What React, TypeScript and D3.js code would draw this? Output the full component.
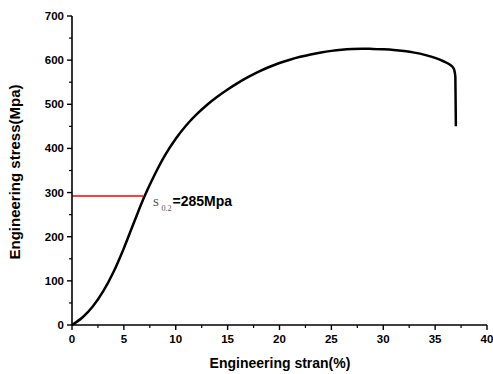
import React from "react";
import * as d3 from "d3";

const strain = [0, 1, 2, 3, 4, 5, 6, 7, 8, 9, 10, 11, 12, 13, 14, 15, 16, 17, 18, 19, 20, 21, 22, 23, 24, 25, 26, 27, 28, 29, 30, 31, 32, 33, 34, 35, 35.8, 36.4, 36.7, 36.85, 36.95, 37.0];
const stress = [0, 17, 42, 76, 120, 174, 234, 292, 342, 386, 422, 452, 477, 498.5, 517, 533.5, 548.5, 562, 574, 584.5, 593.5, 601, 607.5, 613, 617.5, 621, 623.5, 625, 625.7, 625.5, 624.5, 623, 620.5, 617, 612, 605, 597.5, 590, 584, 577, 562, 450];

const xTicks = [0, 5, 10, 15, 20, 25, 30, 35, 40];
const yTicks = [0, 100, 200, 300, 400, 500, 600, 700];
const xMinor = [2.5, 7.5, 12.5, 17.5, 22.5, 27.5, 32.5, 37.5];
const yMinor = [50, 150, 250, 350, 450, 550, 650];

const yieldStrain = 6.87;
const yieldStress = 292;
const yieldLabel = "=285Mpa";
const xTitle = "Engineering stran(%)";
const yTitle = "Engineering stress(Mpa)";

const W = 493, H = 374;
const x = d3.scaleLinear().domain([0, 40]).range([72, 487]);
const y = d3.scaleLinear().domain([0, 700]).range([325, 16]);
const font = "'Liberation Sans', Arial, sans-serif";

export default function App() {
  const pts: [number, number][] = strain.map((s, i) => [s, stress[i]]);
  const line = d3.line<[number, number]>().x(d => x(d[0])).y(d => y(d[1])).curve(d3.curveMonotoneX);
  const pathD = line(pts)!;
  return (
    <svg width={W} height={H} style={{ position: "absolute", left: 0, top: 0, background: "#fff" }}>
      {/* curve */}
      <path d={pathD} fill="none" stroke="#000" strokeWidth={2.5} strokeLinejoin="round" />
      {/* yield line */}
      <line x1={x(0)} x2={x(yieldStrain)} y1={y(yieldStress)} y2={y(yieldStress)} stroke="#ff0000" strokeWidth={1.5} />
      {/* axes */}
      <line x1={x(0)} x2={x(0)} y1={y(0)} y2={y(700)} stroke="#000" strokeWidth={1.6} />
      <line x1={x(0)} x2={x(40)} y1={y(0)} y2={y(0)} stroke="#000" strokeWidth={1.6} />
      {yTicks.map(t => (
        <g key={"y" + t}>
          <line x1={x(0) - 5} x2={x(0)} y1={y(t)} y2={y(t)} stroke="#000" strokeWidth={1.4} />
          <text x={x(0) - 8} y={y(t) + 4} textAnchor="end" fontFamily={font} fontWeight="bold" fontSize={11.5}>{t}</text>
        </g>
      ))}
      {yMinor.map(t => (
        <line key={"ym" + t} x1={x(0) - 3} x2={x(0)} y1={y(t)} y2={y(t)} stroke="#000" strokeWidth={1.2} />
      ))}
      {xTicks.map(t => (
        <g key={"x" + t}>
          <line x1={x(t)} x2={x(t)} y1={y(0)} y2={y(0) + 5} stroke="#000" strokeWidth={1.4} />
          <text x={x(t)} y={y(0) + 18} textAnchor="middle" fontFamily={font} fontWeight="bold" fontSize={11.5}>{t}</text>
        </g>
      ))}
      {xMinor.map(t => (
        <line key={"xm" + t} x1={x(t)} x2={x(t)} y1={y(0)} y2={y(0) + 3} stroke="#000" strokeWidth={1.2} />
      ))}
      {/* titles */}
      <text x={280} y={368} textAnchor="middle" fontFamily={font} fontWeight="bold" fontSize={14}>{xTitle}</text>
      <text transform={`translate(20,172) rotate(-90)`} textAnchor="middle" fontFamily={font} fontWeight="bold" fontSize={15}>{yTitle}</text>
      {/* yield label */}
      <text x={153} y={206} fontFamily="'Liberation Serif', 'Times New Roman', serif" fontSize={15} fill="#555">s</text>
      <text x={161.5} y={210.5} fontFamily="'Liberation Serif', 'Times New Roman', serif" fontSize={8} fill="#555">0.2</text>
      <text x={172.5} y={206} fontFamily={font} fontWeight="bold" fontSize={14}>{yieldLabel}</text>
    </svg>
  );
}
